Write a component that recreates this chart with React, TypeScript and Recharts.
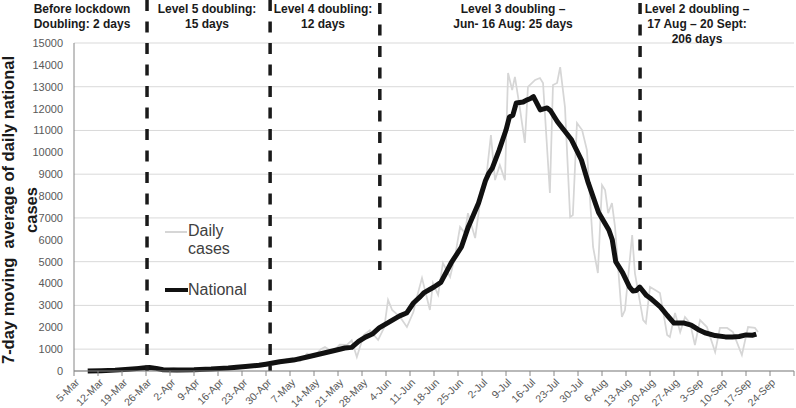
import { LineChart, Line, XAxis, YAxis, CartesianGrid, ReferenceLine } from 'recharts';

// ─── Data (day 0 = 5-Mar) ────────────────────────────────────────────────────

const weekLabels = [
  '5-Mar', '12-Mar', '19-Mar', '26-Mar', '2-Apr', '9-Apr', '16-Apr', '23-Apr', '30-Apr',
  '7-May', '14-May', '21-May', '28-May', '4-Jun', '11-Jun', '18-Jun', '25-Jun', '2-Jul',
  '9-Jul', '16-Jul', '23-Jul', '30-Jul', '6-Aug', '13-Aug', '20-Aug', '27-Aug', '3-Sep',
  '10-Sep', '17-Sep', '24-Sep',
];
const weekTicks = [...weekLabels.map((_, i) => i * 7), 210];

const yTicks = [0, 1000, 2000, 3000, 4000, 5000, 6000, 7000, 8000, 9000, 10000, 11000, 12000, 13000, 14000, 15000];

const nationalDays = [
  4, 8, 12, 16, 19, 21, 22, 24, 26, 30, 35, 40, 45, 50, 54, 56, 60, 64, 68, 72, 76, 79, 81, 83,
  85, 87, 89, 92, 95, 97, 99, 101, 102, 105, 107, 110, 113, 115, 118, 120, 121, 122, 124, 126,
  127, 128, 129, 131, 132, 133, 134, 136, 138, 139, 141, 143, 145, 148, 150, 153, 156, 157, 158,
  160, 162, 163, 164, 165, 167, 168, 171, 173, 175, 178, 180, 182, 184, 187, 190, 192, 194, 196,
  198, 199,
];
const nationalAvg = [
  0, 15, 40, 80, 120, 150, 160, 120, 60, 50, 60, 90, 140, 210, 260, 310, 420, 500, 640, 790, 940,
  1050, 1080, 1350, 1550, 1690, 1970, 2250, 2520, 2650, 3110, 3400, 3570, 3840, 4050, 4940, 5670,
  6590, 7680, 8700, 9050, 9280, 10100, 11020, 11620, 11700, 12260, 12300, 12390, 12450, 12550,
  11940, 12030, 11900, 11400, 11000, 10600, 9650, 8600, 7250, 6450, 6000, 5000, 4500, 3850, 3660,
  3680, 3840, 3450, 3340, 2930, 2550, 2190, 2190, 2100, 1900, 1750, 1620, 1560, 1560, 1580, 1650,
  1640, 1690,
];

const dailyDays = [
  0, 4, 8, 11, 13, 15, 17, 18, 19, 20, 21, 22, 24, 26, 27, 29, 31, 33, 35, 37, 40, 43, 45, 47, 50,
  52, 54, 56, 58, 60, 62, 64, 66, 68, 70, 72, 73.2, 75.5, 77.5, 79.6, 81, 82.5, 84.5, 86.3, 88.7,
  90.5, 91.6, 92.8, 95.1, 97.1, 99, 100, 101.5, 103.8, 104.7, 106.2, 107.6, 109.7, 111.2, 112.6,
  114, 114.9, 117, 118.4, 120, 121.6, 122.8, 124.2, 125.7, 126.6, 127.8, 128.6, 130, 131.5, 132.4,
  134.5, 135.9, 136.8, 138.8, 139.7, 140.9, 141.8, 143.2, 144.7, 145.5, 146.7, 148.2, 149.6,
  151.4, 152.8, 154, 154.9, 155.8, 156.9, 157.8, 159.8, 160.7, 162.8, 163.6, 166, 166.8, 168,
  169.5, 170.9, 173, 173.8, 175.3, 176.8, 178.2, 179.7, 181.1, 182.6, 184.6, 187, 188.4, 190.5,
  192.2, 194.8, 196.6, 198.6, 199.5,
];
const dailyCases = [
  0, 3, 10, 20, 40, 60, 120, 90, 200, 220, 240, 80, 90, 20, 80, 140, 80, 70, 90, 80, 110, 180, 120,
  250, 250, 180, 340, 300, 420, 350, 550, 600, 450, 800, 650, 1000, 1100, 870, 1200, 1190, 1400,
  640, 1650, 1870, 1420, 2000, 3250, 2790, 2470, 2010, 2700, 3380, 4250, 2790, 4020, 3480, 4940,
  4300, 5300, 6590, 6310, 7220, 6080, 7680, 8500, 10790, 8730, 9420, 8730, 13630, 12850, 13450,
  12070, 10430, 12990, 13310, 13400, 13170, 8140, 13080, 13170, 13900, 12070, 7040, 7130, 11340,
  11020, 10100, 5670, 4480, 8500, 8280, 7220, 7680, 6590, 2470, 2790, 6220, 4480, 2330, 2190,
  3840, 3700, 3570, 1650, 1560, 2650, 1780, 2470, 2190, 1190, 2330, 2010, 870, 1970, 1970, 1780,
  730, 2010, 1970, 1780,
];

// phase boundaries: day, top and bottom of the dashed marker (in case units)
const phaseDays = [21.3, 57.2, 89.2, 165.1];
const phaseTop = [16966, 16966, 16830, 16830];
const phaseBottom = [0, 0, 4620, 4620];

const phaseNotes = [
  { cx: 82, lines: ['Before lockdown', 'Doubling: 2 days'] },
  { cx: 207, lines: ['Level 5 doubling:', '15 days'] },
  { cx: 323, lines: ['Level 4 doubling:', '12 days'] },
  { cx: 513, lines: ['Level 3 doubling –', 'Jun- 16 Aug: 25 days'] },
  { cx: 697, lines: ['Level 2 doubling –', '17 Aug – 20 Sept:', '206 days'] },
];

const nationalData = nationalDays.map((d, i) => ({ day: d, value: nationalAvg[i] }));
const dailyData = dailyDays.map((d, i) => ({ day: d, value: dailyCases[i] }));

const FONT = '"Liberation Sans", Arial, sans-serif';

function DateTick({ x, y, payload }: any) {
  const label = weekLabels[Math.round(payload.value / 7)];
  if (!label) return null;
  const ax = x + 6;
  const ay = y + 5;
  return (
    <text x={ax} y={ay} transform={`rotate(-45 ${ax} ${ay})`} textAnchor="end"
      fontSize={10.5} fill="#595959" fontFamily={FONT}>
      {label}
    </text>
  );
}

export default function App() {
  return (
    <div style={{ position: 'absolute', left: 0, top: 0, width: 796, height: 408, background: '#fff', fontFamily: FONT }}>
      <LineChart width={796} height={408} margin={{ top: 43, right: 2, bottom: 0, left: 14 }}>
        <CartesianGrid vertical={false} stroke="#d9d9d9" strokeWidth={1} />
        <XAxis
          type="number"
          dataKey="day"
          domain={[0, 210]}
          ticks={weekTicks}
          interval={0}
          height={37}
          tick={<DateTick />}
          tickSize={5}
          stroke="#868686"
          allowDataOverflow
        />
        <YAxis
          type="number"
          domain={[0, 15000]}
          ticks={yTicks}
          width={60}
          tickLine={false}
          tickMargin={5}
          stroke="#868686"
          tick={{ fontSize: 11, fill: '#595959', fontFamily: FONT }}
        />
        <Line data={dailyData} dataKey="value" type="linear" stroke="#d6d6d6" strokeWidth={1.75}
          dot={false} isAnimationActive={false} />
        <Line data={nationalData} dataKey="value" type="linear" stroke="#111" strokeWidth={5}
          strokeLinejoin="round" dot={false} isAnimationActive={false} />
        {phaseDays.map((d, i) => (
          <ReferenceLine key={i} ifOverflow="visible"
            segment={[{ x: d, y: phaseTop[i] }, { x: d, y: phaseBottom[i] }]}
            stroke="#1a1a1a" strokeWidth={3.5} strokeDasharray="11 10.5" />
        ))}
      </LineChart>

      {phaseNotes.map((n, i) => (
        <div key={i} style={{
          position: 'absolute', left: n.cx - 80, top: 2, width: 160, textAlign: 'center',
          fontSize: 12, fontWeight: 700, lineHeight: '15px', color: '#1a1a1a',
        }}>
          {n.lines.map((l, j) => <div key={j}>{l}</div>)}
        </div>
      ))}

      <div style={{
        position: 'absolute', left: 21 - 180, top: 210 - 24, width: 360, height: 48,
        transform: 'rotate(-90deg)', textAlign: 'center', fontSize: 16.5, fontWeight: 700,
        lineHeight: '23px', color: '#1a1a1a', whiteSpace: 'pre',
      }}>
        <div>{'7-day moving  average of daily national'}</div>
        <div>cases</div>
      </div>

      <div style={{ position: 'absolute', left: 165, top: 222, fontSize: 16, color: '#404040', lineHeight: '18px' }}>
        <div style={{ display: 'flex', alignItems: 'flex-start' }}>
          <span style={{ width: 22, height: 2, background: '#d6d6d6', marginTop: 9 }} />
          <span style={{ marginLeft: 1 }}>Daily<br />cases</span>
        </div>
        <div style={{ display: 'flex', alignItems: 'center', marginTop: 23 }}>
          <span style={{ width: 23, height: 4.5, background: '#111' }} />
          <span>National</span>
        </div>
      </div>
    </div>
  );
}
